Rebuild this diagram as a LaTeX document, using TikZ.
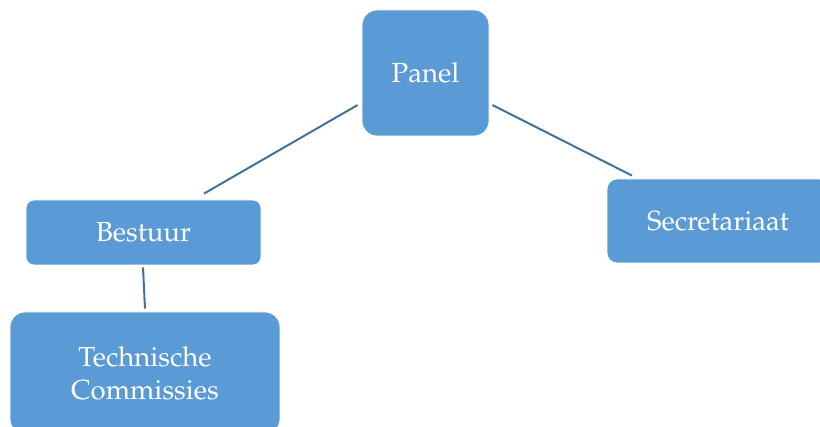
\documentclass[tikz,border=0pt]{standalone}
\usepackage[T1]{fontenc}
\usepackage{mathpazo}
\usetikzlibrary{calc}
\definecolor{boxblue}{HTML}{5B9BD5}
\definecolor{lineblue}{HTML}{41719C}

\begin{document}
\begin{tikzpicture}[x=0.5pt, y=-0.5pt,
    orgbox/.style={draw=white, line width=0.4pt, fill=boxblue, text=white, align=center,
        inner sep=0pt, font=\fontsize{13.8}{16.5}\selectfont},
    link/.style={draw=lineblue, line width=1pt}]
    \useasboundingbox (0,0) rectangle (820,427);
    % Vakken
    \node[orgbox, rounded corners=7.5pt, minimum width=63.5pt, minimum height=63pt] (Panel) at (425.5,73) {Panel};
    \node[orgbox, rounded corners=4pt, minimum width=117.5pt, minimum height=32.5pt] (Bestuur) at (143.5,232.5) {Bestuur};
    \node[orgbox, rounded corners=5pt, minimum width=111pt, minimum height=42pt] (Secretariaat) at (718,221) {Secretariaat};
    \node[orgbox, rounded corners=7.5pt, minimum width=135pt, minimum height=61pt] (TC) at (145,373) {Technische\\Commissies};

    % Lijnen
    \draw[link] ($(Panel.west)+(-4,32)$) -- ($(Bestuur.north)+(60.5,-6)$);
    \draw[link] ($(Panel.east)+(3,32)$) -- ($(Secretariaat.north)+(-86,-3)$);
    \draw[link] ($(Bestuur.south)+(-0.5,2)$) -- ($(TC.north)+(0,-3)$);
\end{tikzpicture}
\end{document}
